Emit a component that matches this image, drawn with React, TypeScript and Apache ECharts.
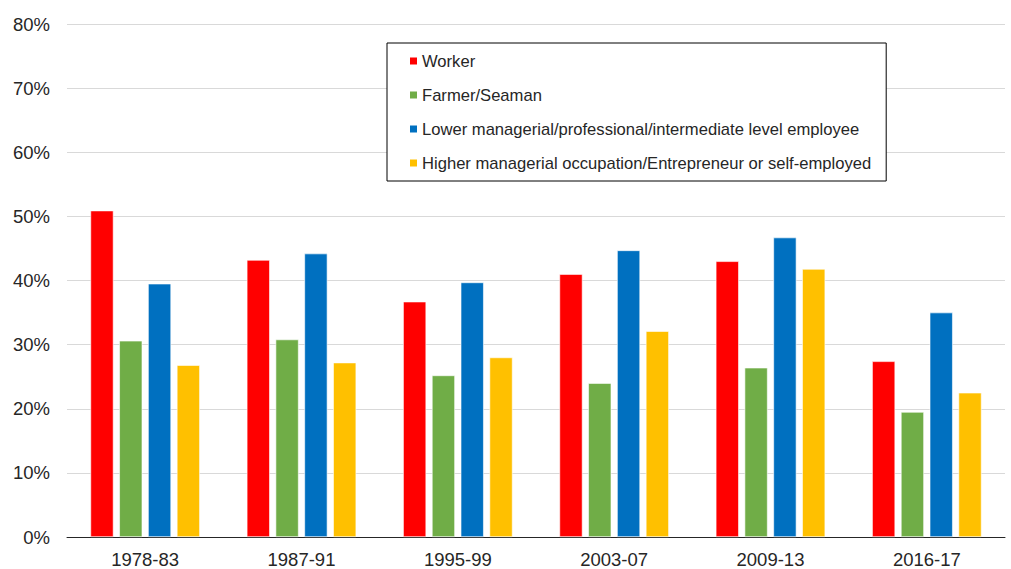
import React, { useEffect, useRef } from "react";
import * as echarts from "echarts";

const categories = ["1978-83", "1987-91", "1995-99", "2003-07", "2009-13", "2016-17"];
const seriesNames = [
  "Worker",
  "Farmer/Seaman",
  "Lower managerial/professional/intermediate level employee",
  "Higher managerial occupation/Entrepreneur or self-employed",
];
const worker = [50.9, 43.2, 36.7, 41.0, 43.0, 27.4];
const farmer = [30.6, 30.8, 25.2, 24.0, 26.4, 19.5];
const lowerManagerial = [39.5, 44.2, 39.7, 44.7, 46.7, 35.0];
const higherManagerial = [26.8, 27.2, 28.0, 32.1, 41.8, 22.5];
const colors = ["#FF0000", "#70AD47", "#0070C0", "#FFC000"];
const yTicks = { min: 0, max: 80, interval: 10 };

const FONT = "'Liberation Sans', Arial, sans-serif";

export default function App() {
  const ref = useRef<HTMLDivElement>(null);
  useEffect(() => {
    if (!ref.current) return;
    const chart = echarts.init(ref.current, undefined, { renderer: "svg" });
    const data = [worker, farmer, lowerManagerial, higherManagerial];
    chart.setOption({
      animation: false,
      textStyle: { fontFamily: FONT },
      grid: { left: 67, right: 6, top: 24, bottom: 32, containLabel: false },
      legend: {
        orient: "vertical",
        left: 387,
        top: 43,
        icon: "rect",
        itemWidth: 9,
        itemHeight: 9,
        itemGap: 16,
        padding: [9, 15, 9, 21],
        borderColor: "#000",
        borderWidth: 1,
        backgroundColor: "#fff",
        textStyle: { fontFamily: FONT, fontSize: 16.6, color: "#262626", lineHeight: 18, padding: [0, 0, 0, -1] },
        data: seriesNames,
      },
      xAxis: {
        type: "category",
        data: categories,
        axisTick: { show: false },
        axisLine: { lineStyle: { color: "#262626", width: 1 } },
        axisLabel: { fontFamily: FONT, fontSize: 18.5, color: "#262626", margin: 13 },
      },
      yAxis: {
        type: "value",
        min: yTicks.min,
        max: yTicks.max,
        interval: yTicks.interval,
        axisLine: { show: false },
        axisTick: { show: false },
        splitLine: { lineStyle: { color: "#D9D9D9", width: 1 } },
        axisLabel: {
          fontFamily: FONT,
          fontSize: 18.5,
          color: "#262626",
          margin: 17,
          formatter: (v: number) => `${v}%`,
        },
      },
      series: seriesNames.map((name, i) => ({
        name,
        type: "bar",
        data: data[i],
        barGap: "25%",
        barCategoryGap: "30%",
        itemStyle: { color: colors[i], borderColor: "#ffffff", borderWidth: 0.6 },
      })),
    });
    return () => chart.dispose();
  }, []);
  return <div ref={ref} style={{ width: 1011, height: 569, position: "absolute", left: 0, top: 0 }} />;
}
